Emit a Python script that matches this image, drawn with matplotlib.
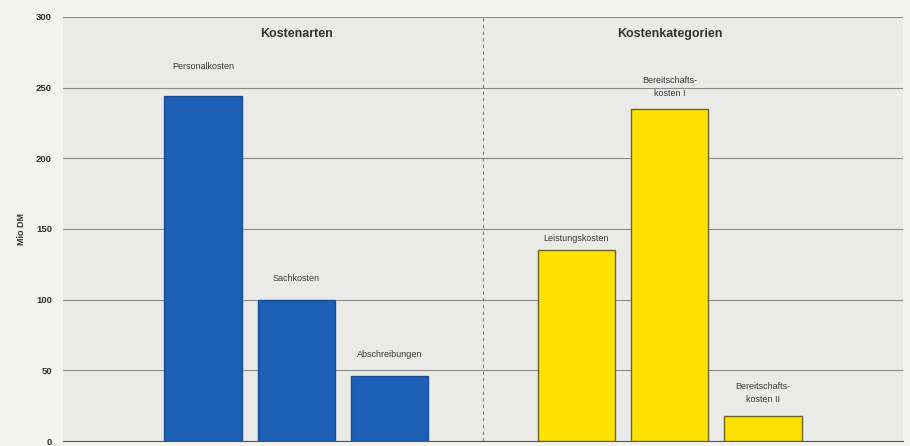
import matplotlib.pyplot as plt

plt.rcParams['font.family'] = ['Liberation Sans', 'DejaVu Sans']

# Werte in Mio DM
labels = ['Personalkosten', 'Sachkosten', 'Abschreibungen',
          'Leistungskosten', 'Bereitschafts-\nkosten I', 'Bereitschafts-\nkosten II']
values = [244, 100, 46, 135, 235, 18]
positions = [0, 1, 2, 4, 5, 6]
group_titles = ['Kostenarten', 'Kostenkategorien']
yticks = [0, 50, 100, 150, 200, 250, 300]

blue = '#1d5fb4'
yellow = '#ffe100'
colors = [blue] * 3 + [yellow] * 3
edges = ['#1a4f98'] * 3 + ['#6e6224'] * 3
label_pad = [18, 12, 12, 5, 8, 8]  # Abstand Text ueber Balken in Punkten

fig = plt.figure(figsize=(9.1, 4.46), dpi=100, facecolor='#f3f3f1')
ax = fig.add_axes([0.0692, 0.0112, 0.9231, 0.9507])
ax.set_facecolor('#eaeae8')

ax.bar(positions, values, width=0.83, color=colors, edgecolor=edges, linewidth=1.0, zorder=3)

for x, v, lab, pad in zip(positions, values, labels, label_pad):
    ax.annotate(lab, (x, v), xytext=(0, pad), textcoords='offset points',
                ha='center', va='bottom', fontsize=6.5, color='#3a3a3a',
                linespacing=1.6)

ax.set_xlim(-1.5, 7.5)
ax.set_ylim(0, 300)
ax.set_yticks(yticks)
ax.set_xticks([])
ax.grid(axis='y', color='#8a8a8a', linewidth=0.8, zorder=1)
ax.tick_params(axis='y', length=0, pad=8, labelsize=6.8, labelcolor='#333333')
for t in ax.get_yticklabels():
    t.set_fontweight('bold')

for s in ['top', 'right', 'left']:
    ax.spines[s].set_visible(False)
ax.spines['bottom'].set_color('#555555')

# Trennlinie zwischen den Gruppen
ax.axvline(3, color='#7a7a7a', linestyle=(0, (3, 3)), linewidth=0.8, zorder=2)

ax.text(1, 288, group_titles[0], ha='center', va='center', fontsize=9,
        fontweight='bold', color='#333333')
ax.text(5, 288, group_titles[1], ha='center', va='center', fontsize=9,
        fontweight='bold', color='#333333')

ax.set_ylabel('Mio DM', fontsize=6.5, fontweight='bold', color='#333333', labelpad=7)

fig.savefig('out.png', dpi=100, facecolor=fig.get_facecolor())
